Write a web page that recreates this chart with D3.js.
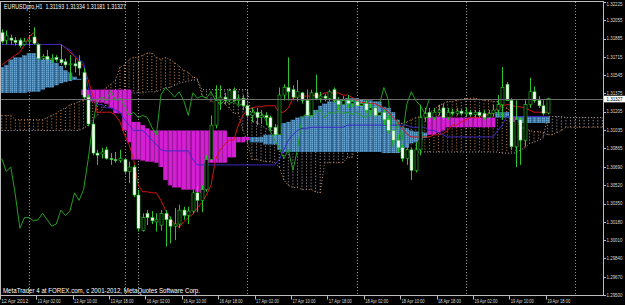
<!DOCTYPE html>
<html>
<head>
<meta charset="utf-8">
<script src="https://cdn.jsdelivr.net/npm/d3@7"></script>
<style>
  body { margin: 0; background: #000; }
  svg { display: block; }
  text { font-family: "Liberation Sans", Arial, sans-serif; }
</style>
</head>
<body>
<svg id="chart" width="625" height="305"></svg>
<script>
// EURUSDpro,H1 - one bar per hour, bar 0 = 12 Apr 2012 18:00
const symbolTitle = "EURUSDpro,H1  1.31193 1.31334 1.31181 1.31327";
const footerText = "MetaTrader 4 at FOREX.com, c 2001-2012, MetaQuotes Software Corp.";

const open = [
  1.3194,1.3187,1.3189,1.3187,1.3187,1.3183,1.3186,1.3190,1.3183,1.3170,
  1.3172,1.3169,1.3171,1.3169,1.3167,1.3164,1.3165,1.3167,1.3157,1.3134,
  1.3109,1.3082,1.3081,1.3085,1.3077,1.3076,1.3075,1.3076,1.3065,1.3069,
  1.3043,1.3010,1.3026,1.3022,1.3018,1.3015,1.3026,1.3020,1.3014,1.3016,
  1.3029,1.3024,1.3028,1.3045,1.3038,1.3048,1.3076,1.3108,1.3131,1.3134,
  1.3131,1.3140,1.3131,1.3133,1.3126,1.3117,1.3120,1.3115,1.3117,1.3115,
  1.3106,1.3099,1.3136,1.3143,1.3141,1.3134,1.3138,1.3131,1.3117,1.3138,
  1.3133,1.3135,1.3133,1.3141,1.3131,1.3127,1.3131,1.3128,1.3130,1.3126,
  1.3128,1.3122,1.3124,1.3117,1.3120,1.3113,1.3103,1.3094,1.3087,1.3077,
  1.3085,1.3066,1.3085,1.3115,1.3120,1.3115,1.3120,1.3124,1.3115,1.3120,
  1.3119,1.3121,1.3119,1.3120,1.3118,1.3120,1.3119,1.3115,1.3119,1.3122,
  1.3127,1.3146,1.3131,1.3088,1.3113,1.3094,1.3127,1.3139,1.3131,1.3126,
  1.31193
];
const high = [
  1.3197,1.3196,1.3192,1.3190,1.3189,1.3189,1.3191,1.3199,1.3184,1.3174,
  1.3178,1.3174,1.3173,1.3183,1.3170,1.3173,1.3170,1.3173,1.3161,1.3136,
  1.3113,1.3085,1.3087,1.3088,1.3082,1.3083,1.3085,1.3077,1.3074,1.3071,
  1.3048,1.3026,1.3029,1.3028,1.3026,1.3029,1.3029,1.3023,1.3031,1.3034,
  1.3032,1.3032,1.3048,1.3051,1.3052,1.3080,1.3117,1.3145,1.3145,1.3138,
  1.3142,1.3143,1.3136,1.3136,1.3128,1.3124,1.3124,1.3122,1.3120,1.3117,
  1.3109,1.3143,1.3146,1.3171,1.3145,1.3150,1.3139,1.3141,1.3141,1.3155,
  1.3139,1.3137,1.3141,1.3143,1.3134,1.3135,1.3136,1.3132,1.3131,1.3131,
  1.3131,1.3128,1.3127,1.3124,1.3122,1.3117,1.3106,1.3099,1.3090,1.3091,
  1.3087,1.3092,1.3127,1.3124,1.3124,1.3124,1.3127,1.3128,1.3124,1.3123,
  1.3124,1.3123,1.3124,1.3122,1.3122,1.3122,1.3122,1.3122,1.3127,1.3136,
  1.3162,1.3148,1.3133,1.3131,1.3115,1.3131,1.3152,1.3144,1.3135,1.3131,
  1.31334
];
const low = [
  1.3184,1.3183,1.3183,1.3182,1.3180,1.3182,1.3181,1.3183,1.3169,1.3167,
  1.3165,1.3166,1.3167,1.3164,1.3161,1.3150,1.3157,1.3154,1.3132,1.3107,
  1.3080,1.3071,1.3077,1.3076,1.3071,1.3073,1.3073,1.3062,1.3054,1.3041,
  1.3009,1.3009,1.3015,1.3016,1.3009,1.3010,1.2995,1.2998,1.3001,1.3012,
  1.3020,1.3016,1.3026,1.3027,1.3027,1.3046,1.3074,1.3105,1.3122,1.3127,
  1.3130,1.3130,1.3127,1.3122,1.3115,1.3111,1.3108,1.3109,1.3108,1.3103,
  1.3094,1.3096,1.3131,1.3131,1.3131,1.3130,1.3128,1.3116,1.3115,1.3131,
  1.3129,1.3130,1.3130,1.3129,1.3122,1.3124,1.3124,1.3125,1.3122,1.3122,
  1.3119,1.3117,1.3115,1.3113,1.3108,1.3101,1.3090,1.3083,1.3074,1.3071,
  1.3057,1.3064,1.3080,1.3111,1.3111,1.3113,1.3117,1.3113,1.3113,1.3117,
  1.3117,1.3117,1.3116,1.3116,1.3115,1.3115,1.3113,1.3113,1.3116,1.3117,
  1.3113,1.3131,1.3085,1.3069,1.3071,1.3088,1.3124,1.3129,1.3124,1.3117,
  1.31181
];
const close = [
  1.3186,1.3191,1.3187,1.3185,1.3182,1.3186,1.3187,1.3184,1.3170,1.3172,
  1.3169,1.3170,1.3169,1.3166,1.3164,1.3165,1.3163,1.3161,1.3134,1.3109,
  1.3082,1.3080,1.3083,1.3077,1.3076,1.3075,1.3077,1.3065,1.3069,1.3043,
  1.3012,1.3022,1.3022,1.3019,1.3020,1.3026,1.3020,1.3014,1.3016,1.3029,
  1.3024,1.3028,1.3045,1.3038,1.3048,1.3076,1.3108,1.3131,1.3134,1.3131,
  1.3140,1.3131,1.3133,1.3126,1.3117,1.3120,1.3115,1.3117,1.3115,1.3106,
  1.3099,1.3136,1.3143,1.3139,1.3134,1.3139,1.3131,1.3117,1.3138,1.3133,
  1.3135,1.3133,1.3139,1.3131,1.3127,1.3131,1.3128,1.3130,1.3126,1.3128,
  1.3122,1.3124,1.3117,1.3120,1.3113,1.3103,1.3094,1.3087,1.3077,1.3085,
  1.3066,1.3085,1.3115,1.3119,1.3115,1.3120,1.3122,1.3115,1.3120,1.3119,
  1.3121,1.3119,1.3120,1.3118,1.3120,1.3117,1.3115,1.3119,1.3122,1.3127,
  1.3143,1.3131,1.3088,1.3113,1.3094,1.3127,1.3139,1.3131,1.3126,1.3119,
  1.31327
];

// Tenkan-sen (red) and Kijun-sen (blue), one value per bar
const tenkan = [
  1.3164,1.3167,1.3170,1.3173,1.3176,1.3183,1.3190,1.3194,1.3183,1.3183,
  1.3183,1.3183,1.3183,1.3183,1.3180,1.3176,1.3172,1.3167,1.3163,1.3150,
  1.3136,1.3120,1.3120,1.3120,1.3120,1.3117,1.3111,1.3099,1.3090,1.3076,
  1.3052,1.3046,1.3046,1.3045,1.3045,1.3038,1.3029,1.3022,1.3016,1.3013,
  1.3018,1.3022,1.3025,1.3031,1.3036,1.3043,1.3052,1.3076,1.3085,1.3090,
  1.3094,1.3094,1.3108,1.3117,1.3122,1.3124,1.3125,1.3125,1.3126,1.3126,
  1.3126,1.3120,1.3120,1.3124,1.3133,1.3135,1.3135,1.3135,1.3135,1.3136,
  1.3136,1.3138,1.3138,1.3138,1.3138,1.3136,1.3136,1.3134,1.3131,1.3129,
  1.3129,1.3128,1.3128,1.3126,1.3124,1.3120,1.3115,1.3111,1.3105,1.3100,
  1.3097,1.3097,1.3097,1.3097,1.3097,1.3099,1.3099,1.3100,1.3103,1.3108,
  1.3108,1.3111,1.3113,1.3115,1.3115,1.3115,1.3117,1.3118,1.3120,1.3124,
  1.3126,1.3127,1.3127,1.3125,1.3125,1.3124,1.3122,1.3120,1.3120,1.3120,
  1.3120
];
const kijun = [
  1.3183,1.3183,1.3183,1.3183,1.3183,1.3183,1.3183,1.3183,1.3183,1.3183,
  1.3183,1.3183,1.3183,1.3183,1.3180,1.3178,1.3173,1.3169,1.3166,1.3143,
  1.3131,1.3127,1.3127,1.3124,1.3124,1.3122,1.3120,1.3113,1.3108,1.3103,
  1.3103,1.3103,1.3099,1.3094,1.3090,1.3085,1.3084,1.3084,1.3084,1.3084,
  1.3084,1.3084,1.3076,1.3071,1.3071,1.3071,1.3071,1.3071,1.3071,1.3071,
  1.3071,1.3071,1.3071,1.3071,1.3071,1.3071,1.3071,1.3071,1.3071,1.3071,
  1.3071,1.3076,1.3085,1.3094,1.3099,1.3103,1.3105,1.3105,1.3106,1.3106,
  1.3106,1.3106,1.3106,1.3106,1.3106,1.3106,1.3108,1.3108,1.3108,1.3108,
  1.3108,1.3108,1.3108,1.3108,1.3108,1.3108,1.3108,1.3108,1.3108,1.3108,
  1.3106,1.3106,1.3106,1.3106,1.3103,1.3103,1.3101,1.3099,1.3097,1.3097,
  1.3097,1.3097,1.3097,1.3097,1.3097,1.3097,1.3097,1.3097,1.3097,1.3103,
  1.3108,1.3116,1.3116,1.3116,1.3116,1.3116,1.3116,1.3116,1.3116,1.3116,
  1.3116
];

// Senkou spans, first value belongs to bar -26 (26 bars before bar 0)
const spanStart = -26;
const kumoShift = 26;
const spanA = [
  1.3117,1.3117,1.3117,1.3113,1.3113,1.3113,1.3113,1.3113,1.3113,1.3113,
  1.3115,1.3117,1.3119,1.3122,1.3124,1.3127,1.3128,1.3130,1.3131,1.3133,
  1.3135,1.3137,1.3139,1.3143,1.3146,1.3150,
  1.3162,1.3164,1.3169,1.3171,1.3171,1.3173,1.3175,1.3175,1.3171,1.3169,
  1.3171,1.3169,1.3166,1.3163,1.3159,1.3157,1.3153,1.3151,
  1.3136,1.3133,1.3130,1.3129,1.3129,1.3128,1.3124,1.3119,1.3119,1.3103,
  1.3092,1.3076,1.3076,1.3075,1.3074,1.3074,1.3073,1.3069,1.3057,1.3052,
  1.3050,1.3050,1.3048,1.3048,1.3048,1.3046,1.3045,1.3073,1.3073,1.3073,
  1.3073,1.3073,1.3078,1.3078,1.3092,1.3092,1.3094,
  1.3097,1.3097,1.3097,1.3099,1.3099,1.3099,1.3108,1.3110,1.3111,1.3113,
  1.3115,1.3116,1.3117,1.3120,1.3122,1.3126,1.3128,1.3130,1.3130,1.3131,
  1.3132,1.3133,1.3133,1.3133,1.3132,1.3131,1.3131,1.3130,1.3130,1.3125,
  1.3124,1.3120,1.3113,1.3106,1.3105,1.3103,1.3102,1.3102,1.3101,
  1.3099,1.3099,1.3101,1.3103,1.3106,1.3106,1.3106,1.3106,1.3106,1.3106,
  1.3106,1.3106,1.3106,1.3106,1.3106,
  1.3120,1.3120,1.3120,1.3111,1.3111,
  1.3116,1.3116,1.3116,1.3116,1.3116,1.3116,1.3116
];
const spanB = [
  1.3103,1.3103,1.3103,1.3103,1.3103,1.3103,1.3103,1.3103,1.3103,1.3103,
  1.3103,1.3103,1.3103,1.3103,1.3103,1.3103,1.3103,1.3103,1.3105,1.3108,
  1.3113,1.3117,1.3122,1.3127,1.3131,1.3135,
  1.3138,1.3138,1.3138,1.3138,1.3138,1.3138,1.3139,1.3139,1.3139,1.3141,
  1.3143,1.3143,1.3145,1.3147,1.3148,1.3149,1.3150,1.3150,
  1.3141,1.3141,1.3141,1.3141,1.3141,1.3141,1.3141,1.3141,1.3141,1.3141,
  1.3141,1.3111,1.3111,1.3108,1.3105,1.3103,1.3103,1.3103,1.3103,1.3103,
  1.3103,1.3103,1.3103,1.3103,1.3103,1.3103,1.3103,1.3103,1.3103,1.3103,
  1.3103,1.3103,1.3097,1.3097,1.3097,1.3097,1.3097,
  1.3092,1.3092,1.3092,1.3090,1.3090,1.3090,1.3085,1.3083,1.3083,1.3083,
  1.3083,1.3083,1.3083,1.3083,1.3083,1.3083,1.3083,1.3083,1.3083,1.3083,
  1.3083,1.3083,1.3083,1.3083,1.3083,1.3083,1.3083,1.3083,1.3083,1.3082,
  1.3082,1.3082,1.3082,1.3085,1.3087,1.3091,1.3092,1.3094,1.3096,
  1.3116,1.3116,1.3116,1.3116,1.3115,1.3115,1.3115,1.3115,1.3115,1.3115,
  1.3115,1.3115,1.3115,1.3115,1.3115,
  1.3115,1.3115,1.3115,1.3116,1.3116,
  1.3110,1.3110,1.3110,1.3110,1.3110,1.3110,1.3110
];

// day separators (bar index) and axis labels
const separatorBars = [6, 27, 30, 54, 78, 102, 126];
const timeLabelBars = [0, 8, 16, 24, 32, 40, 48, 56, 64, 72, 80, 88, 96, 104, 112, 120];
const timeLabels = ["12 Apr 2012", "13 Apr 02:00", "13 Apr 10:00", "13 Apr 18:00", "16 Apr 02:00",
  "16 Apr 10:00", "16 Apr 18:00", "17 Apr 02:00", "17 Apr 10:00", "17 Apr 18:00", "18 Apr 02:00",
  "18 Apr 10:00", "18 Apr 18:00", "19 Apr 02:00", "19 Apr 10:00", "19 Apr 18:00"];
const priceTicks = [1.32225, 1.32055, 1.31885, 1.31715, 1.31545, 1.31375, 1.31205, 1.31035, 1.30865,
  1.30690, 1.30520, 1.30350, 1.30180, 1.30010, 1.29840, 1.29670, 1.29500];

const svg = d3.select("#chart");
const plotRight = 603.5, plotBottom = 295.5;

const x = d3.scaleLinear().domain([0, 120]).range([1.7, 547.7]);
const y = d3.scaleLinear().domain([1.29500, 1.32225]).range([295, 2]);
const step = x(1) - x(0);

svg.append("rect").attr("width", 625).attr("height", 305).attr("fill", "#000");

const defs = svg.append("defs");
defs.append("clipPath").attr("id", "plot")
  .append("rect").attr("x", 1).attr("y", 2).attr("width", plotRight - 1).attr("height", plotBottom - 2);
const blue = defs.append("pattern").attr("id", "bluefill")
  .attr("width", 2).attr("height", 2).attr("patternUnits", "userSpaceOnUse");
blue.append("rect").attr("width", 2).attr("height", 2).attr("fill", "#4a88b8");
blue.append("rect").attr("width", 1).attr("height", 1).attr("fill", "#6aa4cf");
blue.append("rect").attr("x", 1).attr("y", 1).attr("width", 1).attr("height", 1).attr("fill", "#3a6f9c");

const g = svg.append("g").attr("clip-path", "url(#plot)");

// period separators
g.selectAll(".sep").data(separatorBars).join("line")
  .attr("x1", d => Math.round(x(d)) + 0.5).attr("x2", d => Math.round(x(d)) + 0.5)
  .attr("y1", 2).attr("y2", plotBottom)
  .attr("stroke", "#9a9a9a").attr("stroke-width", 1).attr("stroke-dasharray", "1,2");

// shifted kumo, dotted histogram
const spans = spanA.map((a, i) => ({ k: i + spanStart, a, b: spanB[i] }));
const dotted = spans.filter(d => d.k + kumoShift <= 133);
const sandy = "#c88a58", thistle = "#b7a6b7";
g.selectAll(".kumo-dot").data(dotted).join("line")
  .attr("x1", d => x(d.k + kumoShift)).attr("x2", d => x(d.k + kumoShift))
  .attr("y1", d => y(d.a)).attr("y2", d => y(d.b))
  .attr("stroke", d => d.a >= d.b ? sandy : thistle)
  .attr("stroke-width", 1).attr("stroke-dasharray", "1,2");
g.append("path").datum(dotted)
  .attr("fill", "none").attr("stroke", sandy).attr("stroke-dasharray", "1,2")
  .attr("d", d3.line().x(d => x(d.k + kumoShift)).y(d => y(d.a)));
g.append("path").datum(dotted)
  .attr("fill", "none").attr("stroke", thistle).attr("stroke-dasharray", "1,2")
  .attr("d", d3.line().x(d => x(d.k + kumoShift)).y(d => y(d.b)));

// current kumo, solid histogram with a darker seam on each bar
const solid = spans.filter(d => d.k >= 0 && d.k <= 120);
g.selectAll(".kumo").data(solid).join("rect")
  .attr("x", d => x(d.k) - step / 2)
  .attr("width", step)
  .attr("y", d => y(Math.max(d.a, d.b)))
  .attr("height", d => Math.max(1, Math.abs(y(d.a) - y(d.b))))
  .attr("fill", d => d.a >= d.b ? "url(#bluefill)" : "#d21fd2");
g.selectAll(".kumo-edge").data(solid).join("line")
  .attr("x1", d => Math.round(x(d.k) - step / 2) + 0.5).attr("x2", d => Math.round(x(d.k) - step / 2) + 0.5)
  .attr("y1", d => y(Math.max(d.a, d.b))).attr("y2", d => y(Math.min(d.a, d.b)))
  .attr("stroke", d => d.a >= d.b ? "#2f6590" : "#9c169c").attr("stroke-width", 1);

// chinkou span: close plotted 26 bars back
const chinkou = close.map((c, i) => ({ i: i - kumoShift, c })).filter(d => d.i >= 0);
g.append("path").datum(chinkou)
  .attr("fill", "none").attr("stroke", "#22a022").attr("stroke-width", 1)
  .attr("d", d3.line().x(d => x(d.i)).y(d => y(d.c)));

g.append("path").datum(tenkan)
  .attr("fill", "none").attr("stroke", "#d41414").attr("stroke-width", 1)
  .attr("d", d3.line().x((d, i) => x(i)).y(d => y(d)));
g.append("path").datum(kijun)
  .attr("fill", "none").attr("stroke", "#3d28c4").attr("stroke-width", 1)
  .attr("d", d3.line().x((d, i) => x(i)).y(d => y(d)));

// candles
const bars = close.map((c, i) => ({ i, o: open[i], h: high[i], l: low[i], c }));
g.selectAll(".wick").data(bars).join("line")
  .attr("x1", d => Math.round(x(d.i)) + 0.5).attr("x2", d => Math.round(x(d.i)) + 0.5)
  .attr("y1", d => y(d.h)).attr("y2", d => y(d.l))
  .attr("stroke", "#2bc52b").attr("stroke-width", 1);
g.selectAll(".body").data(bars).join("rect")
  .attr("x", d => Math.round(x(d.i)) - 1)
  .attr("width", 3)
  .attr("y", d => y(Math.max(d.o, d.c)))
  .attr("height", d => Math.max(1, Math.abs(y(d.o) - y(d.c))))
  .attr("fill", d => d.c > d.o ? "#000" : "#fff")
  .attr("stroke", "#2bc52b").attr("stroke-width", 0.6);

// bid line
const last = close[close.length - 1];
svg.append("line")
  .attr("x1", 1).attr("x2", plotRight).attr("y1", Math.round(y(last)) + 0.5).attr("y2", Math.round(y(last)) + 0.5)
  .attr("stroke", "#6e6e6e");

// frame
svg.append("rect").attr("x", 0.5).attr("y", 1.5).attr("width", plotRight - 0.5).attr("height", plotBottom - 1.5)
  .attr("fill", "none").attr("stroke", "#bdbdbd");

// price axis (labels squeezed to fit the narrow strip)
const pAxis = svg.append("g");
pAxis.selectAll("line").data(priceTicks).join("line")
  .attr("x1", plotRight).attr("x2", plotRight + 2.5)
  .attr("y1", d => Math.round(y(d)) + 0.5).attr("y2", d => Math.round(y(d)) + 0.5)
  .attr("stroke", "#bdbdbd");
pAxis.selectAll("text").data(priceTicks).join("text")
  .attr("x", plotRight + 3).attr("y", d => Math.max(y(d) + 1.8, 6))
  .attr("font-size", 5.5).attr("fill", "#d8d8d8")
  .attr("textLength", 16).attr("lengthAdjust", "spacingAndGlyphs")
  .text(d => d.toFixed(5));
svg.append("rect").attr("x", plotRight + 0.5).attr("y", y(last) - 2.8).attr("width", 21).attr("height", 6.6).attr("fill", "#fff");
svg.append("text").attr("x", plotRight + 3).attr("y", y(last) + 2.2)
  .attr("font-size", 5.5).attr("fill", "#000")
  .attr("textLength", 16).attr("lengthAdjust", "spacingAndGlyphs")
  .text(last.toFixed(5));

// time axis
const tAxis = svg.append("g");
tAxis.selectAll("line").data(timeLabelBars).join("line")
  .attr("x1", d => Math.round(x(d)) - 1.5).attr("x2", d => Math.round(x(d)) - 1.5)
  .attr("y1", plotBottom).attr("y2", plotBottom + 4)
  .attr("stroke", "#bdbdbd");
tAxis.selectAll("text").data(timeLabelBars).join("text")
  .attr("x", d => x(d) - 0.5).attr("y", 303)
  .attr("font-size", 6).attr("fill", "#d8d8d8")
  .attr("textLength", (d, i) => i === 0 ? 27 : 23).attr("lengthAdjust", "spacingAndGlyphs")
  .text((d, i) => timeLabels[i]);

// title and footer
svg.append("text").attr("x", 4).attr("y", 8.5).attr("font-size", 6.5).attr("fill", "#fff")
  .attr("textLength", 122).attr("lengthAdjust", "spacingAndGlyphs")
  .attr("xml:space", "preserve").text(symbolTitle);
svg.append("text").attr("x", 3).attr("y", 292.5).attr("font-size", 6.5).attr("fill", "#fff")
  .attr("textLength", 197).attr("lengthAdjust", "spacingAndGlyphs").text(footerText);
</script>
</body>
</html>
